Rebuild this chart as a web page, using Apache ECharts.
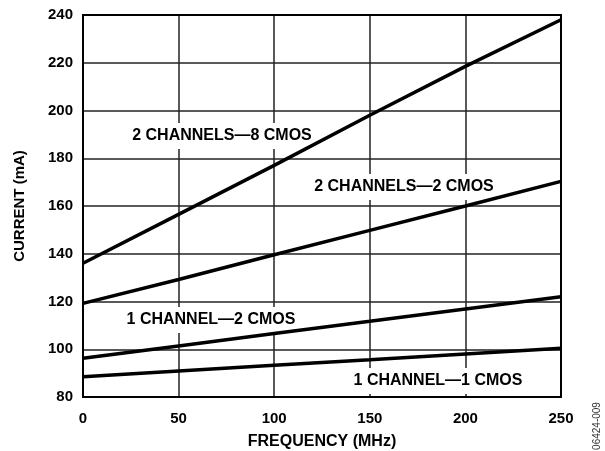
<!DOCTYPE html>
<html>
<head>
<meta charset="utf-8">
<script src="https://cdn.jsdelivr.net/npm/echarts@6/dist/echarts.min.js"></script>
<style>html,body{margin:0;padding:0;background:#fff;}#c{width:605px;height:451px;}</style>
</head>
<body>
<div id="c"></div>
<script>
const frequency = [0, 50, 100, 150, 200, 250];
const twoCh8Cmos = [136, 156.5, 177, 198, 218.5, 238];
const twoCh2Cmos = [119.2, 129.2, 139.6, 149.8, 160, 170.3];
const oneCh2Cmos = [96.2, 101.4, 106.6, 111.7, 116.9, 122];
const oneCh1Cmos = [88.5, 90.9, 93.3, 95.6, 98, 100.4];
const seriesNames = ['2 CHANNELS—8 CMOS', '2 CHANNELS—2 CMOS', '1 CHANNEL—2 CMOS', '1 CHANNEL—1 CMOS'];
const xTitle = 'FREQUENCY (MHz)';
const yTitle = 'CURRENT (mA)';
const figId = '06424-009';

const font = 'Liberation Sans, Arial, Helvetica, sans-serif';
function pairs(arr){ return frequency.map((f,i)=>[f, arr[i]]); }
const allSeries = [twoCh8Cmos, twoCh2Cmos, oneCh2Cmos, oneCh1Cmos];

const chart = echarts.init(document.getElementById('c'), null, {renderer:'canvas'});
const labelPos = [[222,136],[404,187],[211,320],[438,381]];
chart.setOption({
  animation:false,
  backgroundColor:'#fff',
  grid:{left:83,right:44,top:15,bottom:54,containLabel:false,outerBoundsMode:'none',
    show:true,borderColor:'#000',borderWidth:2,backgroundColor:'transparent',z:3},
  xAxis:{type:'value',min:0,max:250,interval:50,
    name:xTitle,nameLocation:'middle',nameGap:37,
    nameTextStyle:{fontFamily:font,fontWeight:'bold',fontSize:16,color:'#000'},
    axisLine:{show:true,lineStyle:{color:'#000',width:2}},
    axisTick:{show:false},
    axisLabel:{fontFamily:font,fontWeight:'bold',fontSize:15,color:'#000',margin:14},
    splitLine:{show:true,lineStyle:{color:'#222',width:1.5}}},
  yAxis:{type:'value',min:80,max:240,interval:20,
    name:yTitle,nameLocation:'middle',nameGap:56,nameRotate:90,
    nameTextStyle:{fontFamily:font,fontWeight:'bold',fontSize:15,color:'#000'},
    axisLine:{show:true,lineStyle:{color:'#000',width:2}},
    axisTick:{show:false},
    axisLabel:{fontFamily:font,fontWeight:'bold',fontSize:15,color:'#000',margin:10},
    splitLine:{show:true,lineStyle:{color:'#222',width:1.5}}},
  series: allSeries.map((arr,i)=>({
    type:'line',name:seriesNames[i],data:pairs(arr),showSymbol:false,symbol:'none',
    lineStyle:{color:'#000',width:3.5},z:5
  })),
  graphic: labelPos.map((p,i)=>({
    type:'text',x:p[0],y:p[1],z:2,
    style:{text:seriesNames[i],fontFamily:font,fontWeight:'bold',fontSize:16,fill:'#000',
      align:'center',verticalAlign:'middle',backgroundColor:'#fff',padding:[5,3]}
  })).concat([{
    type:'text',x:597,y:426,rotation:Math.PI/2,z:2,
    style:{text:figId,fontFamily:font,fontSize:10,fill:'#333',align:'center',verticalAlign:'middle'}
  }])
});
</script>
</body>
</html>
